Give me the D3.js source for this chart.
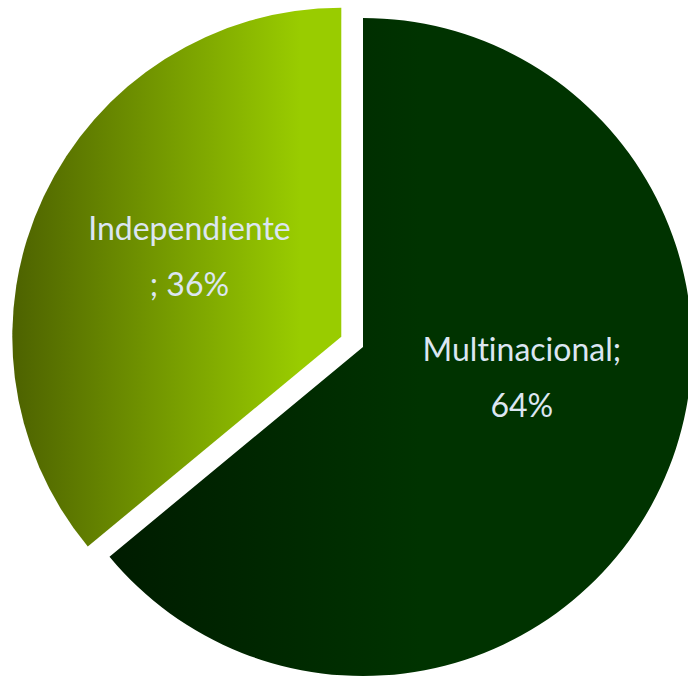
<!DOCTYPE html>
<html>
<head>
<meta charset="utf-8">
<script src="https://cdn.jsdelivr.net/npm/d3@7"></script>
<style>
html,body{margin:0;padding:0;background:#fff;}
svg{display:block;}
</style>
</head>
<body>
<svg id="chart" width="688" height="676"></svg>
<script>
const categories = ["Multinacional", "Independiente"];
const values = [64, 36];
const labelLines = [["Multinacional;", "64%"], ["Independiente", "; 36%"]];

const W = 688, H = 676;
const cx = 363, cy = 347, R = 329;
const explode = [0, 24];

const svg = d3.select("#chart");
const defs = svg.append("defs");

const pie = d3.pie().sort(null).value(d => d)(values);
const arc = d3.arc().innerRadius(0).outerRadius(R);
const labelArc = d3.arc().innerRadius(R * 0.51).outerRadius(R * 0.51);
const labelNudge = [[7, -50], [0, -18]];

const gradStops = [
  [["0%", "#001c00"], ["100%", "#003300"]],
  [["0%", "#4d6200"], ["100%", "#99cc00"]]
];
// gradient spans in absolute page x (converted to each slice's local coords)
const gradSpan = [[110, 420], [12, 300]];

const g = svg.append("g");
pie.forEach((p, i) => {
  const mid = (p.startAngle + p.endAngle) / 2;
  const ox = Math.sin(mid) * explode[i] + cx;
  const oy = -Math.cos(mid) * explode[i] + cy;
  const lg = defs.append("linearGradient").attr("id", "grad" + i)
    .attr("gradientUnits", "userSpaceOnUse")
    .attr("x1", gradSpan[i][0] - ox).attr("x2", gradSpan[i][1] - ox)
    .attr("y1", 0).attr("y2", 0);
  gradStops[i].forEach(s => lg.append("stop").attr("offset", s[0]).attr("stop-color", s[1]));

  const sg = g.append("g").attr("transform", `translate(${ox},${oy})`);
  sg.append("path").attr("d", arc(p)).attr("fill", `url(#grad${i})`);
  const c = labelArc.centroid(p);
  const lx = c[0] + labelNudge[i][0];
  const t = sg.append("text")
    .attr("x", lx)
    .attr("y", c[1] + labelNudge[i][1])
    .attr("text-anchor", "middle")
    .attr("fill", "#dce6f2")
    .style("font-family", "Lato, 'Open Sans', sans-serif")
    .style("font-size", "32px")
    .style("font-variant-ligatures", "none")
    .style("font-feature-settings", "'liga' 0, 'clig' 0");
  labelLines[i].forEach((line, k) => {
    t.append("tspan").attr("x", lx)
      .attr("dy", k === 0 ? "-0.22em" : "1.75em").text(line);
  });
});
</script>
</body>
</html>
